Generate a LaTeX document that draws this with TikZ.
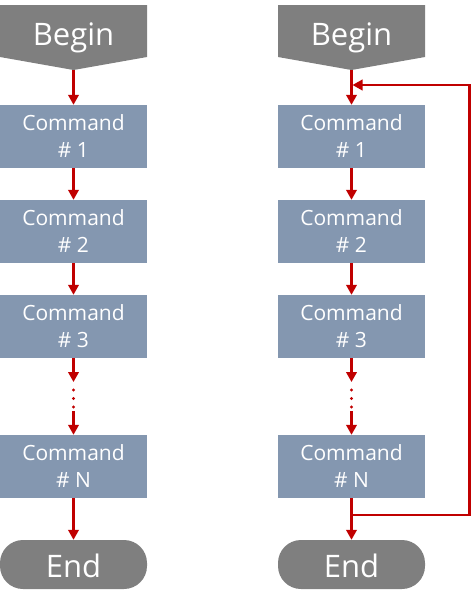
\documentclass[tikz,border=0pt]{standalone}
\usepackage{fontspec}
\setmainfont{Open Sans}
\usetikzlibrary{arrows.meta}
\definecolor{cmdfill}{HTML}{8497B0}
\definecolor{termfill}{HTML}{7F7F7F}
\definecolor{arrred}{HTML}{C00000}
\tikzset{
  cmd/.style={fill=cmdfill, minimum width=147pt, minimum height=63pt, inner sep=0pt,
    text=white, font=\fontsize{21}{27}\selectfont, align=center},
  termtext/.style={text=white, font=\fontsize{31}{36}\selectfont, inner sep=0pt},
  endbox/.style={fill=termfill, minimum width=147pt, minimum height=49pt, inner sep=0pt,
    rounded corners=23pt},
  arr/.style={draw=arrred, line width=2.3pt, -{Triangle[width=10.5pt,length=10pt]}},
  dotc/.style={fill=arrred}
}
\begin{document}
\begin{tikzpicture}[x=1pt,y=-1pt]
\useasboundingbox (0,0) rectangle (472,606);
% ---------- left column ----------
\fill[termfill] (0,5) -- (147,5) -- (147,57) -- (73.5,70) -- (0,57) -- cycle;
\node[termtext, anchor=base] (lbegin) at (73.5,45) {Begin};
\coordinate (ltip) at (73.5,70);
\node[cmd] (l1) at (73.5,136.5) {Command\\\# 1};
\node[cmd] (l2) at (73.5,231.5) {Command\\\# 2};
\node[cmd] (l3) at (73.5,326.5) {Command\\\# 3};
\node[cmd] (lN) at (73.5,466.5) {Command\\\# N};
\node[endbox] (lend) at (73.5,564.5) {};
\node[termtext, anchor=base] (lendt) at (73.5,577.5) {End};
\draw[arr] (ltip) -- (l1.north);
\draw[arr] (l1.south) -- (l2.north);
\draw[arr] (l2.south) -- (l3.north);
\coordinate (ldotA) at (73.5,382);
\coordinate (ldotB) at (73.5,411);
\draw[arr] (l3.south) -- (ldotA);
\fill[dotc] (73.5,390) circle (1.7pt) (73.5,398.5) circle (1.7pt) (73.5,407) circle (1.7pt);
\draw[arr] (ldotB) -- (lN.north);
\draw[arr] (lN.south) -- (lend.north);
% ---------- right column ----------
\fill[termfill] (278,5) -- (425,5) -- (425,57) -- (351.5,70) -- (278,57) -- cycle;
\node[termtext, anchor=base] (rbegin) at (351.5,45) {Begin};
\coordinate (rtip) at (351.5,70);
\node[cmd] (r1) at (351.5,136.5) {Command\\\# 1};
\node[cmd] (r2) at (351.5,231.5) {Command\\\# 2};
\node[cmd] (r3) at (351.5,326.5) {Command\\\# 3};
\node[cmd] (rN) at (351.5,466.5) {Command\\\# N};
\node[endbox] (rend) at (351.5,564.5) {};
\node[termtext, anchor=base] (rendt) at (351.5,577.5) {End};
\draw[arr] (rtip) -- (r1.north);
\draw[arr] (r1.south) -- (r2.north);
\draw[arr] (r2.south) -- (r3.north);
\coordinate (rdotA) at (351.5,382);
\coordinate (rdotB) at (351.5,411);
\draw[arr] (r3.south) -- (rdotA);
\fill[dotc] (351.5,390) circle (1.7pt) (351.5,398.5) circle (1.7pt) (351.5,407) circle (1.7pt);
\draw[arr] (rdotB) -- (rN.north);
\draw[arr] (rN.south) -- (rend.north);
% loop back
\coordinate (split) at (351.5,515);
\coordinate (loopBR) at (469.5,515);
\coordinate (loopTR) at (469.5,85);
\coordinate (join) at (352.5,85);
\draw[arr, line join=miter] (split) -- (loopBR) -- (loopTR) -- (join);
\end{tikzpicture}
\end{document}
